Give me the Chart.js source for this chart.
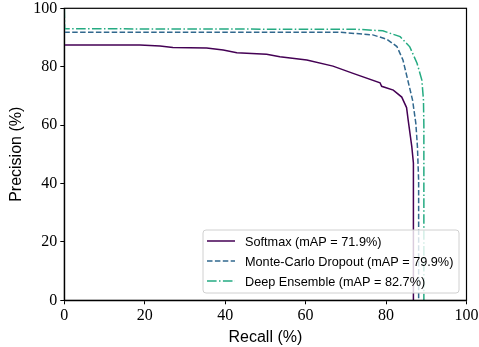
<!DOCTYPE html>
<html><head><meta charset="utf-8">
<script src="https://cdn.jsdelivr.net/npm/chart.js@4.4.1/dist/chart.umd.min.js"></script>
<style>html,body{margin:0;padding:0;background:#fff}#wrap{width:479px;height:347px}</style>
</head><body><div id="wrap"><canvas id="c" width="479" height="347"></canvas></div>
<script>
const xTicks = [0, 20, 40, 60, 80, 100];
const yTicks = [0, 20, 40, 60, 80, 100];
const seriesLabels = ["Softmax (mAP = 71.9%)", "Monte-Carlo Dropout (mAP = 79.9%)", "Deep Ensemble (mAP = 82.7%)"];
const softmaxRecall    = [0, 18.8, 23.8, 27.0, 35.4, 39.5, 42.9, 50.3, 53.6, 60.3, 66.8, 71.8, 78.5, 78.9, 81.8, 83.9, 85.1, 85.5, 86.4, 86.8, 86.8];
const softmaxPrecision = [87.4, 87.4, 87.1, 86.6, 86.4, 85.7, 84.8, 84.3, 83.4, 82.3, 80.2, 77.7, 74.5, 73.3, 72.0, 69.6, 66.0, 61.7, 52.6, 47.0, 0];
const dropoutRecall    = [0, 68.5, 76.7, 80.2, 82.7, 84.2, 85.4, 86.6, 87.4, 87.8, 88.1, 88.1];
const dropoutPrecision = [91.8, 91.8, 90.9, 89.4, 86.9, 82.3, 75.4, 68.5, 60.6, 52.6, 41.0, 0];
const ensembleRecall    = [0, 0.1, 72.8, 79.2, 83.5, 85.9, 87.7, 88.9, 89.3, 89.4, 89.4];
const ensemblePrecision = [100, 93.0, 92.8, 92.3, 90.3, 86.8, 81.2, 75.4, 68.6, 60.0, 0];

const colors = ["#440154", "#31688e", "#25ab82"];
const dashes = [[], [5.5, 2.4], [9.6, 2.4, 1.5, 2.4]];
const pts = (xs, ys) => xs.map((x, i) => ({x: x, y: ys[i]}));
const seriesData = [pts(softmaxRecall, softmaxPrecision), pts(dropoutRecall, dropoutPrecision), pts(ensembleRecall, ensemblePrecision)];

const frame = {
  id: 'frame',
  afterDatasetsDraw(chart) {
    const a = chart.chartArea, ctx = chart.ctx;
    ctx.save();
    ctx.strokeStyle = '#000'; ctx.lineWidth = 1.2;
    ctx.strokeRect(a.left, a.top, a.right - a.left, a.bottom - a.top);
    const bx = 203, by = 230, bw = 256, bh = 63, r = 3;
    ctx.beginPath();
    ctx.moveTo(bx + r, by); ctx.arcTo(bx + bw, by, bx + bw, by + bh, r);
    ctx.arcTo(bx + bw, by + bh, bx, by + bh, r); ctx.arcTo(bx, by + bh, bx, by, r);
    ctx.arcTo(bx, by, bx + bw, by, r); ctx.closePath();
    ctx.fillStyle = 'rgba(255,255,255,0.8)'; ctx.fill();
    ctx.strokeStyle = '#d0d0d0'; ctx.lineWidth = 1; ctx.stroke();
    ctx.font = '12.7px "Liberation Sans", Arial, sans-serif';
    ctx.textBaseline = 'middle'; ctx.fillStyle = '#000';
    chart.data.datasets.forEach((ds, i) => {
      const y = 241 + i * 20;
      ctx.beginPath(); ctx.setLineDash(ds.borderDash || []);
      ctx.strokeStyle = ds.borderColor; ctx.lineWidth = 1.5;
      ctx.moveTo(207, y); ctx.lineTo(235, y); ctx.stroke();
      ctx.setLineDash([]);
      ctx.fillText(ds.label, 245, y + 1);
    });
    ctx.restore();
  }
};

new Chart(document.getElementById('c'), {
  type: 'line',
  data: {
    datasets: seriesData.map((d, i) => ({
      label: seriesLabels[i], data: d, borderColor: colors[i], borderWidth: 1.5,
      borderDash: dashes[i], pointRadius: 0, fill: false, tension: 0
    }))
  },
  options: {
    responsive: false, animation: false, devicePixelRatio: 1,
    layout: {padding: {left: 0, right: 12.5, top: 8.3, bottom: 0}},
    plugins: {legend: {display: false}, tooltip: {enabled: false}},
    scales: {
      x: {
        type: 'linear', min: 0, max: 100,
        afterBuildTicks: s => { s.ticks = xTicks.map(v => ({value: v})); },
        afterFit: s => { s.height = 46.7; s.paddingLeft = 0; s.paddingRight = 0; },
        grid: {drawOnChartArea: false, drawTicks: true, tickLength: 4, tickColor: '#000', lineWidth: 1},
        border: {display: true, color: '#000', width: 1.2},
        ticks: {color: '#000', padding: 3, maxRotation: 0, font: {family: '"Liberation Serif", serif', size: 16, lineHeight: 1}},
        title: {display: true, text: 'Recall (%)', color: '#000', padding: {top: 0, bottom: 0}, font: {family: '"Liberation Sans", Arial, sans-serif', size: 16}}
      },
      y: {
        type: 'linear', min: 0, max: 100,
        afterBuildTicks: s => { s.ticks = yTicks.map(v => ({value: v})); },
        afterFit: s => { s.width = 64.3; s.paddingTop = 0; s.paddingBottom = 0; },
        grid: {drawOnChartArea: false, drawTicks: true, tickLength: 4, tickColor: '#000', lineWidth: 1},
        border: {display: true, color: '#000', width: 1.2},
        ticks: {color: '#000', padding: 3, font: {family: '"Liberation Serif", serif', size: 16, lineHeight: 1}},
        title: {display: true, text: 'Precision (%)', color: '#000', padding: {top: 7, bottom: 0}, font: {family: '"Liberation Sans", Arial, sans-serif', size: 16}}
      }
    }
  },
  plugins: [frame]
});
</script></body></html>
